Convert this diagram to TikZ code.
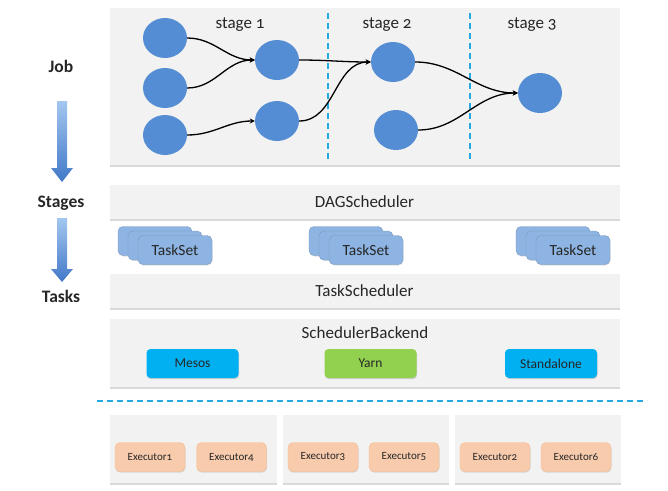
\documentclass[tikz,border=0pt]{standalone}
\usepackage{fontspec}
\setmainfont{Carlito}[Numbers=OldStyle]
\usetikzlibrary{shapes.geometric,arrows.meta,shadows}
\definecolor{panelgray}{RGB}{242,242,242}
\definecolor{dotblue}{RGB}{84,141,212}
\definecolor{sepblue}{RGB}{38,168,224}
\definecolor{setblue}{RGB}{141,180,226}
\definecolor{mesoscyan}{RGB}{0,176,240}
\definecolor{yarngreen}{RGB}{146,208,80}
\definecolor{execpeach}{RGB}{248,203,173}
\definecolor{arrtop}{RGB}{163,199,240}
\definecolor{arrbot}{RGB}{66,120,200}
\definecolor{txt}{RGB}{38,38,38}

\begin{document}
\begin{tikzpicture}[x=1pt,y=-1pt, %pixel coordinates, y pointing down
  font=\fontsize{17}{19}\selectfont, text=txt,
  panel/.style={fill=panelgray, inner sep=0pt,
    drop shadow={shadow xshift=0pt, shadow yshift=-1.5pt, opacity=0.3}},
  dot/.style={ellipse, fill=dotblue, minimum width=44pt, minimum height=40pt, inner sep=0pt},
  flow/.style={line width=1.3pt, -{Stealth[length=5pt,width=5pt]}},
  sep/.style={sepblue, line width=1.6pt, dash pattern=on 6pt off 4pt},
  side/.style={font=\fontsize{17.5}{19}\selectfont\bfseries},
  taskset/.style={fill=setblue, draw=setblue!85!black, rounded corners=5pt,
    minimum width=74pt, minimum height=29pt, inner sep=0pt, font=\fontsize{15.5}{17}\selectfont,
    drop shadow={shadow xshift=0.5pt, shadow yshift=-1pt, opacity=0.25}},
  backend/.style={rounded corners=4pt, minimum width=92pt, minimum height=29pt, inner sep=0pt,
    font=\fontsize{13.5}{15}\selectfont,
    drop shadow={shadow xshift=0.5pt, shadow yshift=-1.2pt, opacity=0.3}},
  exec/.style={fill=execpeach, draw=execpeach!80!orange, rounded corners=5pt,
    minimum width=70pt, minimum height=29pt, inner sep=0pt, font=\fontsize{11}{13}\selectfont,
    drop shadow={shadow xshift=0.5pt, shadow yshift=-1.2pt, opacity=0.25}}]
\useasboundingbox (0,0) rectangle (668,490);

%Job panel with the stage graph
\node[panel, minimum width=510pt, minimum height=157pt] (jobpanel) at (364.5,86.5) {};
\draw[sep] (328,13) -- (328,161);
\draw[sep] (470,13) -- (470,161);
\node (st1) at (240,25) {stage 1};
\node (st2) at (387,25) {stage 2};
\node (st3) at (532,25) {stage 3};

\node[dot] (a1) at (165,38) {};
\node[dot] (a2) at (165,88) {};
\node[dot] (a3) at (165,135) {};
\node[dot] (b1) at (277,60) {};
\node[dot] (b2) at (277,121) {};
\node[dot] (c1) at (393,62) {};
\node[dot] (c2) at (396,130) {};
\node[dot] (d1) at (540,93) {};

\draw[flow] (a1.east) to[out=0,in=180] (b1.west);
\draw[flow] (a2.east) to[out=0,in=180] (b1.west);
\draw[flow] (a3.east) to[out=0,in=180] (b2.west);
\draw[flow] (b1.east) to[out=0,in=180] (c1.west);
\draw[flow] (b2.east) to[out=0,in=180] (c1.west);
\draw[flow] (c1.east) to[out=0,in=180] (d1.west);
\draw[flow] (c2.east) to[out=0,in=180] (d1.west);

%Left column: Job -> Stages -> Tasks
\node[side] (job) at (61,66) {Job};
\node[side] (stages) at (61,203) {Stages};
\node[side] (tasks) at (61,296) {Tasks};
\shade[top color=arrtop, bottom color=arrbot] (57,101)--(67,101)--(67,168)--(73,168)--(62,182)--(51,168)--(57,168)--cycle;
\shade[top color=arrtop, bottom color=arrbot] (57,218)--(67,218)--(67,269)--(73,269)--(62,282)--(51,269)--(57,269)--cycle;

%Schedulers
\node[panel, minimum width=510pt, minimum height=34pt] (dag) at (364.5,202) {DAGScheduler};
\foreach \x/\n in {118/t1,309/t2,516/t3}{
  \node[taskset] at (\x+37,241) {};
  \node[taskset] at (\x+47,245.5) {};
  \node[taskset] (\n) at (\x+57,250) {TaskSet};
}
\node[panel, minimum width=510pt, minimum height=34pt] (tsched) at (364.5,291) {TaskScheduler};

\node[panel, minimum width=510pt, minimum height=68pt] (sbe) at (364.5,353) {};
\node (sbelabel) at (365,333) {SchedulerBackend};
\node[backend, fill=mesoscyan] (mesos) at (192.5,363.5) {Mesos};
\node[backend, fill=yarngreen] (yarn) at (370.5,363.5) {Yarn};
\node[backend, fill=mesoscyan] (standalone) at (551,363.5) {Standalone};

%Cluster boundary
\draw[sep] (97,401) -- (647,401);

%Executors
\node[panel, minimum width=167pt, minimum height=68pt] (w1) at (193.5,449) {};
\node[panel, minimum width=166pt, minimum height=68pt] (w2) at (366,449) {};
\node[panel, minimum width=166pt, minimum height=68pt] (w3) at (538,449) {};
\node[exec] (e1) at (150,457) {Executor1};
\node[exec] (e4) at (231.5,457) {Executor4};
\node[exec] (e3) at (323,457) {Executor3};
\node[exec] (e5) at (404,457) {Executor5};
\node[exec] (e2) at (495,457) {Executor2};
\node[exec] (e6) at (576,457) {Executor6};
\end{tikzpicture}
\end{document}
